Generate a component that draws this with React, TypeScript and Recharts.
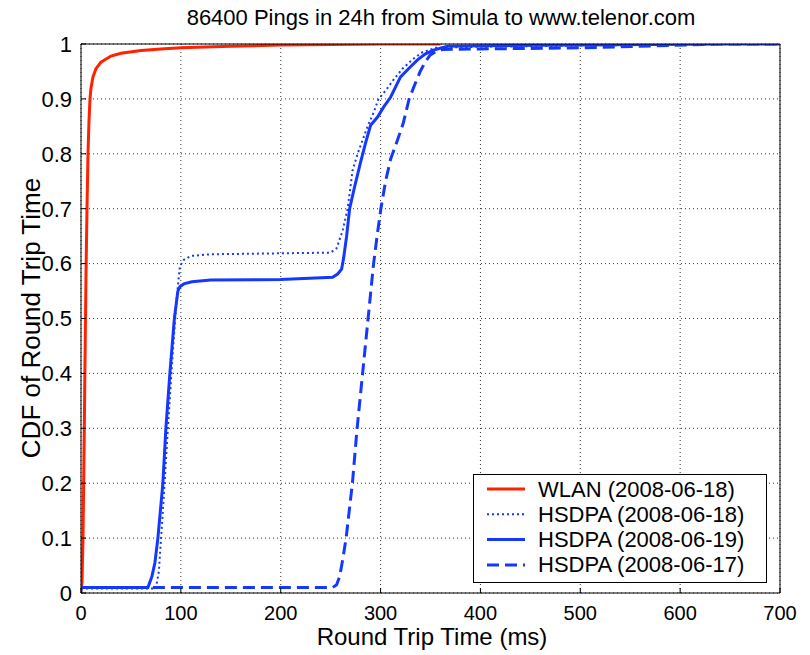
import { LineChart, Line, XAxis, YAxis, CartesianGrid, Legend } from "recharts"

const font = "Arial, 'Liberation Sans', Helvetica, sans-serif"

const xTicks = [0, 100, 200, 300, 400, 500, 600, 700]
const yTicks = [0, 0.1, 0.2, 0.3, 0.4, 0.5, 0.6, 0.7, 0.8, 0.9, 1]

// WLAN (2008-06-18)
const wlanX = [0, 1, 2, 3, 4, 5, 6, 7, 8, 9, 10, 12, 15, 20, 30, 40, 60, 80, 100, 150, 200, 300, 360]
const wlanY = [0, 0.02, 0.1, 0.25, 0.42, 0.58, 0.7, 0.8, 0.86, 0.9, 0.92, 0.94, 0.955, 0.967, 0.978, 0.983, 0.988, 0.991, 0.993, 0.996, 0.998, 1, 1]

// HSDPA (2008-06-18), dotted
const hs18X = [0, 75, 78, 82, 87, 92, 96, 99, 103, 110, 130, 250, 256, 262, 267, 272, 277, 282, 287, 293, 298, 305, 313, 322, 332, 342, 355, 400, 640, 700]
const hs18Y = [0.008, 0.008, 0.04, 0.15, 0.3, 0.44, 0.54, 0.595, 0.607, 0.614, 0.617, 0.62, 0.628, 0.66, 0.7, 0.77, 0.8, 0.825, 0.85, 0.875, 0.9, 0.915, 0.935, 0.955, 0.972, 0.985, 0.993, 0.995, 1, 1]

// HSDPA (2008-06-19), solid
const hs19X = [0, 67, 71, 74, 77, 82, 85, 89, 93.5, 97, 99, 103, 111, 130, 200, 252, 257, 261, 263, 266, 269, 274, 280, 285, 290, 297, 303, 310, 320, 328, 337, 345, 353, 367, 400, 640, 700]
const hs19Y = [0.01, 0.01, 0.03, 0.055, 0.1, 0.2, 0.3, 0.4, 0.5, 0.55, 0.558, 0.563, 0.567, 0.57, 0.571, 0.575, 0.581, 0.59, 0.61, 0.65, 0.7, 0.74, 0.785, 0.82, 0.852, 0.867, 0.885, 0.903, 0.94, 0.955, 0.971, 0.982, 0.989, 0.996, 0.997, 1, 1]

// HSDPA (2008-06-17), dashed
const hs17X = [72, 252, 256, 259, 262, 265.5, 268, 271.8, 276.5, 282, 287.5, 293, 296.5, 300.3, 305, 310, 316, 322.6, 328.6, 334, 339.7, 344, 349.7, 356, 362, 400, 500, 640, 700]
const hs17Y = [0.01, 0.01, 0.015, 0.03, 0.06, 0.1, 0.14, 0.2, 0.3, 0.4, 0.5, 0.6, 0.65, 0.7, 0.75, 0.79, 0.82, 0.855, 0.9, 0.925, 0.95, 0.965, 0.98, 0.987, 0.99, 0.991, 0.993, 1, 1]

const zip = (xs: number[], ys: number[]) => xs.map((x, i) => ({ x, y: ys[i] }))

const series = [
  { name: "WLAN (2008-06-18)", data: zip(wlanX, wlanY), color: "#ff2200", width: 3, dash: undefined as string | undefined },
  { name: "HSDPA (2008-06-18)", data: zip(hs18X, hs18Y), color: "#1438ff", width: 2, dash: "2 3" },
  { name: "HSDPA (2008-06-19)", data: zip(hs19X, hs19Y), color: "#1438ff", width: 3, dash: undefined },
  { name: "HSDPA (2008-06-17)", data: zip(hs17X, hs17Y), color: "#1438ff", width: 3, dash: "12 6" },
]

function LegendBox() {
  return (
    <svg width={294} height={109} style={{ display: "block" }}>
      <rect x={0.5} y={0.5} width={293} height={108} fill="#fff" stroke="#000" />
      {series.map((s, i) => {
        const cy = 15 + i * 25.3
        return (
          <g key={s.name}>
            <line x1={14} x2={52} y1={cy} y2={cy} stroke={s.color} strokeWidth={s.width} strokeDasharray={s.dash} />
            <text x={65} y={cy + 7.5} fontSize={22} fontFamily={font} fill="#000">
              {s.name}
            </text>
          </g>
        )
      })}
    </svg>
  )
}

export default function App() {
  const axisStroke = { stroke: "#000", strokeWidth: 1 }
  return (
    <div style={{ position: "absolute", left: 0, top: 0, width: 810, height: 655, background: "#fff" }}>
      <LineChart width={810} height={655} margin={{ top: 43, right: 29, bottom: 0, left: 10 }}>
        <CartesianGrid stroke="#333" strokeDasharray="1 3" />
        <XAxis
          dataKey="x"
          type="number"
          domain={[0, 700]}
          ticks={xTicks}
          interval={0}
          height={62}
          tickSize={-5}
          tickMargin={18}
          axisLine={axisStroke}
          tickLine={axisStroke}
          tick={{ fill: "#000", fontSize: 20, fontFamily: font }}
          allowDataOverflow
        />
        <XAxis
          xAxisId="top"
          dataKey="x"
          orientation="top"
          type="number"
          domain={[0, 700]}
          ticks={xTicks}
          interval={0}
          height={1}
          tickSize={-5}
          axisLine={axisStroke}
          tickLine={axisStroke}
          tick={false}
          allowDataOverflow
        />
        <YAxis
          type="number"
          domain={[0, 1]}
          ticks={yTicks}
          interval={0}
          width={71}
          tickSize={-5}
          tickMargin={14}
          axisLine={axisStroke}
          tickLine={axisStroke}
          tick={{ fill: "#000", fontSize: 22, fontFamily: font }}
          allowDataOverflow
        />
        <YAxis
          yAxisId="right"
          orientation="right"
          type="number"
          domain={[0, 1]}
          ticks={yTicks}
          interval={0}
          width={1}
          tickSize={-5}
          axisLine={axisStroke}
          tickLine={axisStroke}
          tick={false}
          allowDataOverflow
        />
        {series.map((s) => (
          <Line
            key={s.name}
            data={s.data}
            dataKey="y"
            name={s.name}
            type="linear"
            stroke={s.color}
            strokeWidth={s.width}
            strokeDasharray={s.dash}
            dot={false}
            activeDot={false}
            isAnimationActive={false}
          />
        ))}
        <Legend
          layout="vertical"
          verticalAlign="middle"
          align="center"
          content={() => <LegendBox />}
          wrapperStyle={{ position: "absolute", left: 473, top: 474, width: 294, height: 109, right: "auto", bottom: "auto" }}
        />
      </LineChart>
      <svg width={810} height={655} style={{ position: "absolute", left: 0, top: 0, pointerEvents: "none" }}>
        <text x={441} y={25} textAnchor="middle" fontSize={22} fontFamily={font} fill="#000">
          86400 Pings in 24h from Simula to www.telenor.com
        </text>
        <text x={432} y={645} textAnchor="middle" fontSize={24} fontFamily={font} fill="#000">
          Round Trip Time (ms)
        </text>
        <text x={0} y={0} transform="translate(40 318) rotate(-90)" textAnchor="middle" fontSize={26} fontFamily={font} fill="#000">
          CDF of Round Trip Time
        </text>
      </svg>
    </div>
  )
}
